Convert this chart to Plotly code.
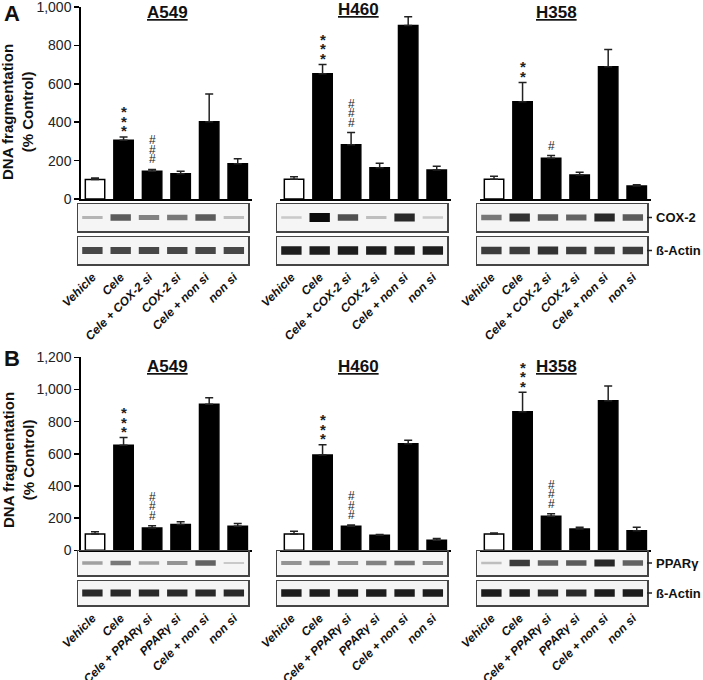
import plotly.graph_objects as go

W, H = 703, 680
def px(x): return min(1.0, max(0.0, x / W))
def py(y): return min(1.0, max(0.0, 1 - y / H))

# ---------------- data ----------------
cells = ["A549", "H460", "H358"]
cats_A = ["Vehicle", "Cele", "Cele + COX-2 si", "COX-2 si", "Cele + non si", "non si"]
cats_B = ["Vehicle", "Cele", "Cele + PPARγ si", "PPARγ si", "Cele + non si", "non si"]

A_A549 = [102, 306, 144, 132, 402, 184]
A_A549_err = [8, 17, 10, 12, 145, 26]
A_H460 = [103, 652, 282, 163, 904, 151]
A_H460_err = [13, 49, 64, 23, 45, 19]
A_H358 = [103, 506, 212, 125, 689, 68]
A_H358_err = [16, 101, 14, 14, 90, 6]

B_A549 = [101, 653, 139, 160, 908, 149]
B_A549_err = [15, 48, 14, 17, 41, 17]
B_H460 = [101, 593, 149, 93, 663, 62]
B_H460_err = [17, 64, 8, 6, 21, 12]
B_H358 = [101, 862, 211, 133, 930, 122]
B_H358_err = [6, 120, 17, 10, 91, 21]

sig_A_A549 = ["", "***", "###", "", "", ""]
sig_A_H460 = ["", "***", "###", "", "", ""]
sig_A_H358 = ["", "**", "#", "", "", ""]
sig_B_A549 = ["", "***", "###", "", "", ""]
sig_B_H460 = ["", "***", "###", "", "", ""]
sig_B_H358 = ["", "***", "###", "", "", ""]

# western blot band intensities (0-1)
cox2_A549 = [0.15, 0.6, 0.4, 0.45, 0.6, 0.1]
cox2_H460 = [0.05, 1.0, 0.65, 0.1, 0.85, 0.05]
cox2_H358 = [0.45, 0.8, 0.6, 0.55, 0.85, 0.6]
actinA_A549 = [0.7, 0.7, 0.7, 0.7, 0.7, 0.7]
actinA_H460 = [0.9, 0.9, 0.9, 0.9, 0.9, 0.9]
actinA_H358 = [0.75, 0.75, 0.8, 0.75, 0.75, 0.75]
ppar_A549 = [0.25, 0.45, 0.25, 0.3, 0.55, 0.05]
ppar_H460 = [0.3, 0.4, 0.3, 0.4, 0.45, 0.35]
ppar_H358 = [0.1, 0.75, 0.55, 0.6, 0.85, 0.55]
actinB_A549 = [0.85, 0.85, 0.85, 0.85, 0.85, 0.85]
actinB_H460 = [0.9, 0.9, 0.9, 0.9, 0.9, 0.9]
actinB_H358 = [0.9, 0.9, 0.85, 0.85, 0.9, 0.9]

yticks_A = [0, 200, 400, 600, 800, 1000]
yticks_B = [0, 200, 400, 600, 800, 1000, 1200]

panels = [
    dict(name="A", cats=cats_A, vals=[A_A549, A_H460, A_H358], errs=[A_A549_err, A_H460_err, A_H358_err],
         sig=[sig_A_A549, sig_A_H460, sig_A_H358], blot1=[cox2_A549, cox2_H460, cox2_H358],
         blot2=[actinA_A549, actinA_H460, actinA_H358], yticks=yticks_A, blot1_name="COX-2",
         bar_y=(199, 7), b1=(231, 204), b2=(264, 237), title_y=[12, 10, 12], label_y=13, ytitle_y=112),
    dict(name="B", cats=cats_B, vals=[B_A549, B_H460, B_H358], errs=[B_A549_err, B_H460_err, B_H358_err],
         sig=[sig_B_A549, sig_B_H460, sig_B_H358], blot1=[ppar_A549, ppar_H460, ppar_H358],
         blot2=[actinB_A549, actinB_H460, actinB_H358], yticks=yticks_B, blot1_name="PPARγ",
         bar_y=(550.3, 357.3), b1=(575, 551), b2=(605, 581), title_y=[366, 366, 366], label_y=358, ytitle_y=460),
]

cell_x = [(80.75, 252), (279.75, 451), (479.75, 651)]
title_x = [167, 358, 556]

FONT = "Arial, Liberation Sans, sans-serif"
fig = go.Figure()
layout = dict(width=W, height=H, margin=dict(l=0, r=0, t=0, b=0, pad=0), autosize=False,
              plot_bgcolor="white", paper_bgcolor="white", showlegend=False,
              font=dict(family=FONT, color="#1a1a1a"), bargap=0.3)
annotations = []
shapes = []

def ak(n, axis):
    return f"{axis}axis" if n == 1 else f"{axis}axis{n}"

def ref(n, axis):
    return axis if n == 1 else f"{axis}{n}"

n = 0
for p in panels:
    ymax = p["yticks"][-1]
    for c in range(3):
        x0, x1 = cell_x[c]
        # ---- bar axes ----
        n += 1
        nb = n
        layout[ak(nb, "x")] = dict(domain=[px(x0), px(x1)], range=[-0.5, 5.5], showline=True,
                                   linecolor="black", linewidth=2, ticks="", showticklabels=False,
                                   showgrid=False, zeroline=False, anchor=ref(nb, "y"), automargin=False)
        ydict = dict(domain=[py(p["bar_y"][0]), py(p["bar_y"][1])], range=[0, ymax], showgrid=False,
                     zeroline=False, anchor=ref(nb, "x"), automargin=False)
        if c == 0:
            ydict.update(showline=True, linecolor="black", linewidth=1.5, ticks="outside", ticklen=5,
                         tickwidth=1.5, tickcolor="black", tickvals=p["yticks"], tickformat=",",
                         ticklabeloverflow="allow",
                         tickfont=dict(size=14, family=FONT, color="#222"))
        else:
            ydict.update(showline=False, showticklabels=False, ticks="")
        layout[ak(nb, "y")] = ydict
        vals = p["vals"][c]
        errs = p["errs"][c]
        fig.add_trace(go.Bar(
            x=list(range(6)), y=vals, xaxis=ref(nb, "x"), yaxis=ref(nb, "y"),
            marker=dict(color=["white"] + ["black"] * 5, line=dict(color="black", width=1.5)),
            error_y=dict(type="data", array=errs, arrayminus=[0] * 6, symmetric=False,
                         color="#222", thickness=1.5, width=4),
            width=0.68, hoverinfo="skip", cliponaxis=False))
        # significance marks
        for i, s in enumerate(p["sig"][c]):
            for k, ch in enumerate(s):
                if ch == "*":
                    size, corr, txt = 15, -4, "<b>*</b>"
                else:
                    size, corr, txt = 12, 0, "#"
                annotations.append(dict(x=i, y=vals[i] + errs[i], xref=ref(nb, "x"), yref=ref(nb, "y"),
                                        text=txt, showarrow=False, yanchor="middle",
                                        yshift=10 + k * 9.5 + corr,
                                        font=dict(size=size, family=FONT, color="#222")))
        # cell title
        annotations.append(dict(x=px(title_x[c]), y=py(p["title_y"][c]), xref="paper", yref="paper",
                                text=f"<b><u>{cells[c]}</u></b>", showarrow=False,
                                xanchor="center", yanchor="middle",
                                font=dict(size=17, family=FONT, color="#111")))
        # ---- blot axes ----
        for bi, (blot, yr) in enumerate([(p["blot1"][c], p["b1"]), (p["blot2"][c], p["b2"])]):
            n += 1
            bx = dict(domain=[px(x0 - 2.5), px(x1 - 4)], range=[-0.5, 5.5], showline=True, mirror=True,
                      linecolor="#444", linewidth=1.5, ticks="", showgrid=False, zeroline=False,
                      anchor=ref(n, "y"), automargin=False)
            if bi == 1:
                bx.update(showticklabels=True, tickvals=list(range(6)), ticktext=p["cats"], tickangle=-45,
                          ticklabeloverflow="allow",
                          tickfont=dict(size=12, family=FONT, color="#111", weight="bold", style="italic"))
            else:
                bx.update(showticklabels=False)
            layout[ak(n, "x")] = bx
            layout[ak(n, "y")] = dict(domain=[py(yr[0]), py(yr[1])], range=[0, 1], showline=True,
                                      mirror=True, linecolor="#444", linewidth=1.5, ticks="",
                                      showticklabels=False, showgrid=False, zeroline=False,
                                      anchor=ref(n, "x"), automargin=False)
            shapes.append(dict(type="rect", xref=f"{ref(n, 'x')} domain", yref=f"{ref(n, 'y')} domain",
                               x0=0, x1=1, y0=0, y1=1, fillcolor="#f5f5f5", line=dict(width=0),
                               layer="below"))
            thick = [0.08 + 0.26 * v for v in blot]
            colors = [f"rgba(10,10,10,{0.15 + 0.85 * v:.2f})" for v in blot]
            fig.add_trace(go.Bar(x=list(range(6)), y=thick, base=[0.5 - t / 2 for t in thick],
                                 xaxis=ref(n, "x"), yaxis=ref(n, "y"), width=0.72,
                                 marker=dict(color=colors, line=dict(width=0)), hoverinfo="skip"))
    # right-hand blot labels
    for lab, yr in [(p["blot1_name"], p["b1"]), ("ß-Actin", p["b2"])]:
        yc = (yr[0] + yr[1]) / 2
        shapes.append(dict(type="line", xref="paper", yref="paper", x0=px(647), x1=px(652),
                           y0=py(yc), y1=py(yc), line=dict(color="#222", width=1.5)))
        annotations.append(dict(x=px(654), y=py(yc), xref="paper", yref="paper", text=f"<b>{lab}</b>",
                                showarrow=False, xanchor="left", yanchor="middle",
                                font=dict(size=13, family=FONT, color="#111")))
    # panel letter
    annotations.append(dict(x=px(2), y=py(p["label_y"]), xref="paper", yref="paper",
                            text=f"<b>{p['name']}</b>", showarrow=False, xanchor="left", yanchor="middle",
                            font=dict(size=22, family=FONT, color="#111")))
    # y-axis title
    annotations.append(dict(x=px(18), y=py(p["ytitle_y"]), xref="paper", yref="paper",
                            text="<b>DNA fragmentation</b><br><b>(% Control)</b>", showarrow=False,
                            textangle=-90, xanchor="center", yanchor="middle",
                            font=dict(size=15, family=FONT, color="#111")))

layout["annotations"] = annotations
layout["shapes"] = shapes
fig.update_layout(**layout)
fig.write_html("out.html", config={"displayModeBar": False, "staticPlot": True},
               post_script="document.body.style.margin='0px';document.body.style.overflow='hidden';")
